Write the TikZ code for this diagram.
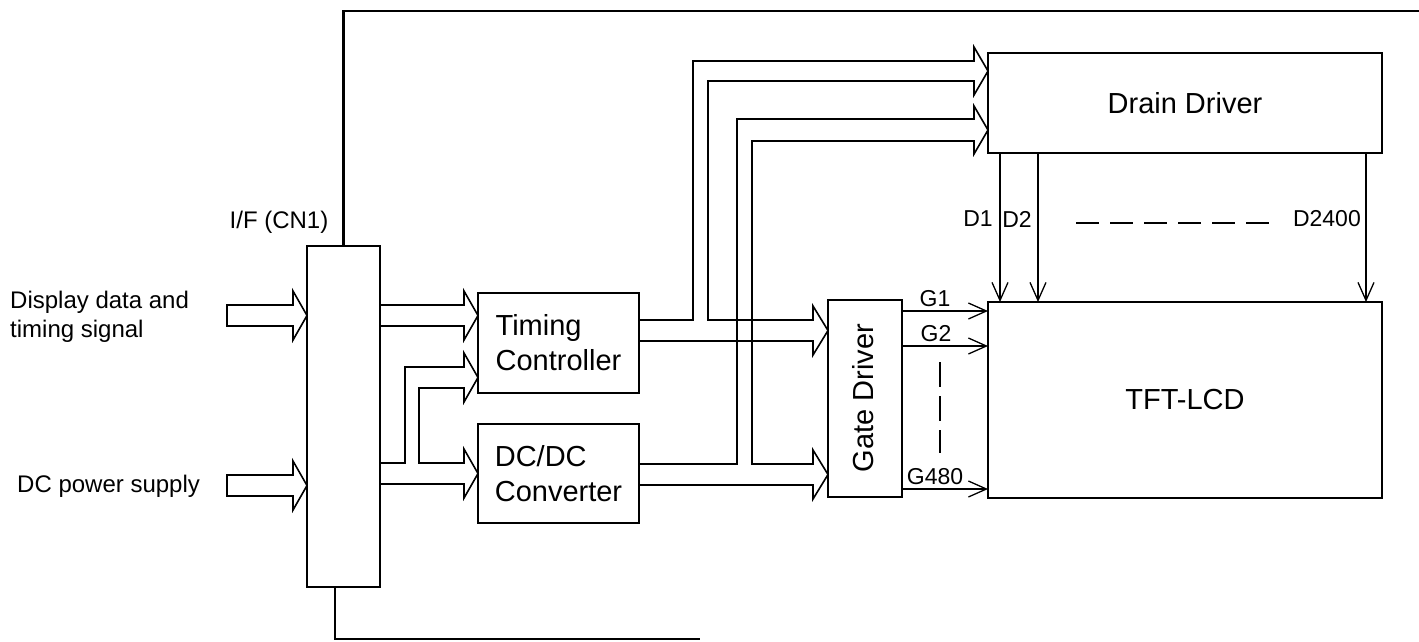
\documentclass[tikz,border=0pt]{standalone}
\usepackage{fontspec}
\setmainfont{Liberation Sans}
\usetikzlibrary{arrows.meta}
\begin{document}
\begin{tikzpicture}[x=1pt,y=-1pt,
  box/.style={draw,line width=2.2pt,inner sep=0pt,outer sep=0pt},
  blk/.style={line width=1.6pt,line join=miter},
  sig/.style={line width=1.3pt,-{Straight Barb[length=18pt,width=16pt]}},
  bigtxt/.style={font=\fontsize{29}{35}\selectfont},
  midtxt/.style={font=\fontsize{24}{29}\selectfont,inner sep=0pt},
  smalltxt/.style={font=\fontsize{23}{27}\selectfont,inner sep=0pt},
  bus/.style={line width=2.4pt},
  dots/.style={line width=1.3pt}
]
\useasboundingbox (0,0) rectangle (1419,641);
% boxes
\node[box,minimum width=73pt,minimum height=341pt] (if) at (343.5,416.5) {};
\node[box,minimum width=161pt,minimum height=100pt,bigtxt,align=left] (tc) at (558.5,343) {Timing\\Controller};
\node[box,minimum width=161pt,minimum height=99pt,bigtxt,align=left] (dc) at (558.5,473.5) {DC/DC\\Converter};
\node[box,minimum width=74pt,minimum height=197pt] (gd) at (865,398.5) {};
\node[bigtxt,rotate=90] (gdl) at (863,398) {Gate Driver};
\node[box,minimum width=394pt,minimum height=100pt,bigtxt] (dd) at (1185,103) {Drain Driver};
\node[box,minimum width=394pt,minimum height=196pt,bigtxt] (lcd) at (1185,400) {TFT-LCD};

% side labels
\node[midtxt] (ifl) at (279,222) {I/F (CN1)};
\node[midtxt,anchor=west,align=left,font=\fontsize{24}{29}\selectfont] (in1l) at (10,317) {Display data and\\timing signal};
\node[midtxt,anchor=west] (in2l) at (17,486) {DC power supply};

% top and bottom lines
\coordinate (tr) at (1419,11);
\coordinate (br) at (700,639);
\draw[bus] (if.north) -- (if.north |- tr) -- (tr);
\draw[bus] (if.south -| 335,0) -- (335,639) -- (br);

% input block arrows
\draw[blk] (293,305) -- (227,305) -- (227,326) -- (293,326) -- (293,340) -- (if.west |- 0,315.5) -- (293,291) -- cycle;
\draw[blk] (293,475) -- (227,475) -- (227,496) -- (293,496) -- (293,510) -- (if.west |- 0,485.5) -- (293,461) -- cycle;

% I/F -> Timing Controller
\draw[blk] (if.east |- 0,305) -- (464,305) -- (464,291) -- (tc.west |- 0,315.5) -- (464,340) -- (464,326) -- (if.east |- 0,326);
% I/F -> Timing Controller (power) and DC/DC
\draw[blk] (if.east |- 0,463) -- (405,463) -- (405,367) -- (464,367) -- (464,353) -- (tc.west |- 0,377.5) -- (464,402) -- (464,388)
  -- (419,388) -- (419,463) -- (464,463) -- (464,449) -- (dc.west |- 0,473.5) -- (464,498) -- (464,484) -- (if.east |- 0,484);
% Timing -> Drain (1) and Gate (1)
\draw[blk] (tc.east |- 0,320) -- (693,320) -- (693,61) -- (974,61) -- (974,47) -- (dd.west |- 0,71) -- (974,95) -- (974,81)
  -- (708,81) -- (708,320) -- (813,320) -- (813,306) -- (gd.west |- 0,330.5) -- (813,355) -- (813,341) -- (tc.east |- 0,341);
% DC/DC -> Drain (2) and Gate (2)
\draw[blk] (dc.east |- 0,464) -- (737,464) -- (737,119) -- (974,119) -- (974,106) -- (dd.west |- 0,130) -- (974,154) -- (974,141)
  -- (752,141) -- (752,464) -- (813,464) -- (813,450) -- (gd.west |- 0,474.5) -- (813,499) -- (813,485) -- (dc.east |- 0,485);

% drain lines
\draw[sig] (dd.south -| 1000,0) -- (lcd.north -| 1000,0);
\draw[sig] (dd.south -| 1038,0) -- (lcd.north -| 1038,0);
\draw[sig] (dd.south -| 1366,0) -- (lcd.north -| 1366,0);
\node[smalltxt] (d1) at (978,219) {D1};
\node[smalltxt] (d2) at (1017,219) {D2};
\node[smalltxt,anchor=east] (dn) at (1361,219) {D2400};
\draw[dots,dash pattern=on 23pt off 11pt] (1076,223) -- (1270,223);

% gate lines
\draw[sig] (gd.east |- 0,311) -- (lcd.west |- 0,311);
\draw[sig] (gd.east |- 0,346) -- (lcd.west |- 0,346);
\draw[sig] (gd.east |- 0,489) -- (lcd.west |- 0,489);
\node[smalltxt,anchor=base] (g1) at (935,306) {G1};
\node[smalltxt,anchor=base] (g2) at (936,341) {G2};
\node[smalltxt,anchor=base] (gn) at (935,484) {G480};
\draw[dots,dash pattern=on 25pt off 9pt] (940,362) -- (940,453);
\end{tikzpicture}
\end{document}
